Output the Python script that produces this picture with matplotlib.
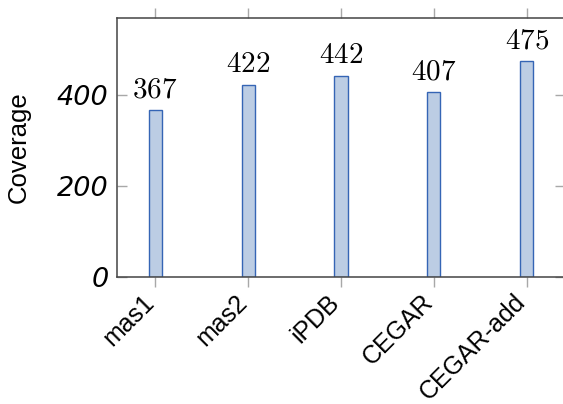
import matplotlib
matplotlib.use("Agg")
import matplotlib.pyplot as plt
from matplotlib.transforms import ScaledTranslation

methods = ["mas1", "mas2", "iPDB", "CEGAR", "CEGAR-add"]
coverage = [367, 422, 442, 407, 475]
yticks = [0, 200, 400]

plt.rcParams["mathtext.fontset"] = "cm"

fig = plt.figure(figsize=(5.63, 4.04), dpi=100)
ax = fig.add_axes([117 / 563, 127 / 404, 448 / 563, 259 / 404])

x = list(range(len(methods)))
ax.bar(x, coverage, width=0.14, color="#bccde4", edgecolor="#3565b5", linewidth=1.0, zorder=2)

for xi, v in zip(x, coverage):
    ax.annotate(f"${v}$", (xi, v), xytext=(0, 5), textcoords="offset points",
                ha="center", va="bottom", fontsize=21)

ax.set_xlim(-0.41, 4.41)
ax.set_ylim(0, 570)

ax.set_xticks(x)
ax.set_xticklabels(methods, rotation=45, ha="right", va="baseline", rotation_mode="anchor",
                   fontsize=18, family="Liberation Sans")
# nudge the rotated labels left so they end under the tick
shift = ScaledTranslation(-7 / 100, 0, fig.dpi_scale_trans)
for lbl in ax.get_xticklabels():
    lbl.set_transform(lbl.get_transform() + shift)

ax.set_yticks(yticks)
ax.set_yticklabels([str(t) for t in yticks], fontsize=19.5, family="DejaVu Sans", style="italic")

ax.tick_params(axis="x", direction="out", length=7, width=1, color="#a8a8a8",
               top=True, bottom=True, pad=12)
ax.tick_params(axis="y", direction="in", length=7, width=1, color="#a8a8a8",
               left=True, right=True, pad=6)

for s in ax.spines.values():
    s.set_color("#444444")
    s.set_linewidth(1.1)

ax.set_ylabel("Coverage", fontsize=18.5, family="Liberation Sans")
ax.yaxis.set_label_coords(-0.192, 0.5)

fig.savefig("out.png", dpi=100)
